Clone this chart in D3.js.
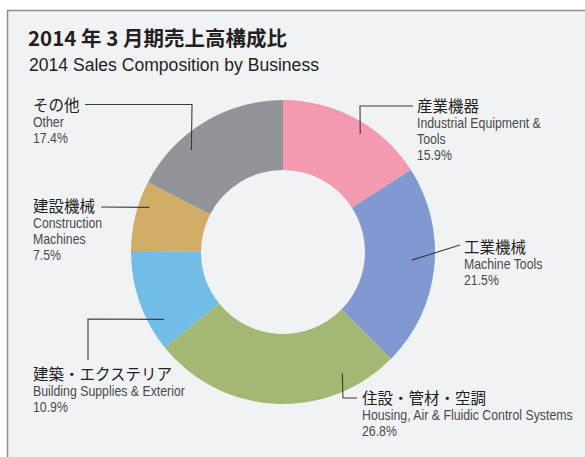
<!DOCTYPE html>
<html>
<head>
<meta charset="utf-8">
<script src="https://cdn.jsdelivr.net/npm/d3@7"></script>
<style>
  body { margin: 0; background: #fff; }
</style>
</head>
<body>
<script>
const w = 585;
const h = 457;

const namesJa = ["産業機器", "工業機械", "住設・管材・空調", "建築・エクステリア", "建設機械", "その他"];
const namesEn = [["Industrial Equipment &", "Tools"], ["Machine Tools"], ["Housing, Air & Fluidic Control Systems"],
                 ["Building Supplies & Exterior"], ["Construction", "Machines"], ["Other"]];
const shares = [15.9, 21.5, 26.8, 10.9, 7.5, 17.4];
const colors = ["#f49ab0", "#8198d0", "#a3b872", "#72bce8", "#d0ac67", "#939498"];

// label layout: text anchor, leader start (fraction through slice, radius), elbow points
const labelPos = [
  { x: 417, y: 112, t: 0.58, r: 141, path: [[360, 106], [413, 106]] },
  { x: 464, y: 253, t: 0.47, r: 129, path: [[460, 245]] },
  { x: 362, y: 404, t: 0.2,  r: 135, path: [[343, 398], [357, 398]] },
  { x: 33,  y: 380, t: 0.24, r: 137, path: [[88, 319], [88, 360]] },
  { x: 33,  y: 212, t: 0.67, r: 141, path: [[101, 207]] },
  { x: 33,  y: 111, t: 0.33, r: 137, path: [[192, 104.5], [85, 104.5]] }
];

const cx = 283, cy = 252, outerR = 152, innerR = 82;
const latin = '"Liberation Sans", Arial, sans-serif';
const cjk = '"Noto Sans CJK JP", sans-serif';
const squeeze = 0.88;

const svg = d3.select('body').append('svg')
    .attr('width', w)
    .attr('height', h);

// condensed latin text
function narrow(x, y, str, size, fill, sx) {
    return svg.append('text')
        .attr('transform', `translate(${x},${y}) scale(${sx || squeeze},1)`)
        .attr('font-family', latin)
        .attr('font-size', size)
        .attr('fill', fill)
        .text(str);
}

// panel
svg.append('rect')
    .attr('x', 7.5).attr('y', 10.5)
    .attr('width', w + 20).attr('height', h + 20)
    .attr('fill', '#f1f2f4')
    .attr('stroke', '#8e8e8e')
    .attr('stroke-width', 1.5);

svg.append('text')
    .attr('x', 28).attr('y', 46)
    .attr('font-family', cjk)
    .attr('font-size', 20.5).attr('font-weight', 'bold').attr('fill', '#231f20')
    .text('2014 年 3 月期売上高構成比');

narrow(29, 71, '2014 Sales Composition by Business', 18.5, '#231f20', 0.95);

const pie = d3.pie().sort(null).value(d => d);
const arcs = pie(shares);
const arc = d3.arc().innerRadius(innerR).outerRadius(outerR);

const g = svg.append('g').attr('transform', `translate(${cx},${cy})`);
g.selectAll('path')
    .data(arcs)
    .enter()
    .append('path')
        .attr('d', arc)
        .attr('fill', (d, i) => colors[i]);

// labels + leaders
arcs.forEach((d, i) => {
    const p = labelPos[i];
    const a = d.startAngle + p.t * (d.endAngle - d.startAngle);
    const s = d3.pointRadial(a, p.r);
    const pts = [[cx + s[0], cy + s[1]]].concat(p.path);
    svg.append('path')
        .attr('d', d3.line()(pts))
        .attr('fill', 'none')
        .attr('stroke', '#3a3a3a')
        .attr('stroke-width', 1.1);

    svg.append('text')
        .attr('x', p.x).attr('y', p.y)
        .attr('font-family', cjk)
        .attr('font-size', 15.5).attr('fill', '#231f20')
        .text(namesJa[i]);
    const lines = namesEn[i].concat([shares[i].toFixed(1) + '%']);
    lines.forEach((line, j) => {
        narrow(p.x, p.y + 16 * (j + 1), line, 14, '#4a4a4a');
    });
});
</script>
</body>
</html>
